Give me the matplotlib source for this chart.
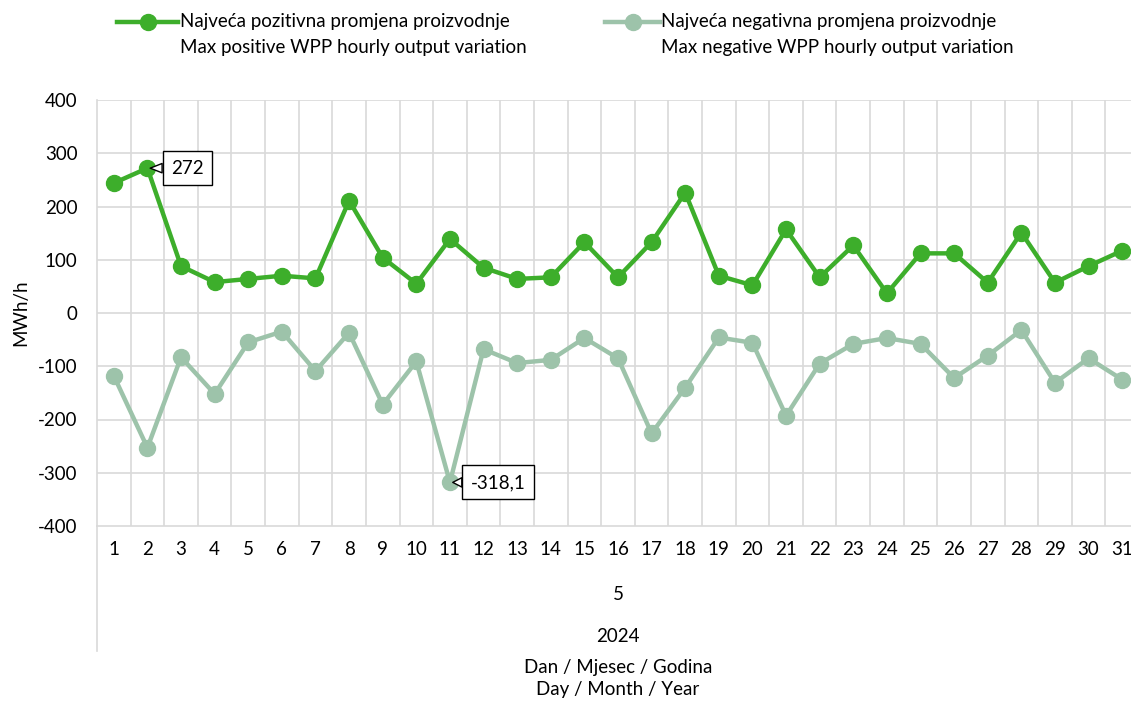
import numpy as np
import matplotlib.pyplot as plt
from matplotlib.lines import Line2D

plt.rcParams['font.family'] = ['Lato', 'DejaVu Sans']
plt.rcParams['axes.unicode_minus'] = False

# podaci (MWh/h) za svibanj 2024
days = list(range(1, 32))
max_pos = [244, 272, 88, 58, 64, 70, 65, 211, 104, 55, 139, 85, 64, 67, 133, 67,
           133, 226, 70, 52, 157, 67, 127, 37, 112, 112, 57, 151, 57, 88, 117]
max_neg = [-118, -253, -83, -152, -55, -35, -109, -37, -172, -91, -318.1, -68, -94,
           -88, -47, -85, -226, -140, -46, -56, -193, -95, -58, -47, -58, -122, -80,
           -32, -131, -85, -125]
month_label = "5"
year_label = "2024"
label_pos = "Najveća pozitivna promjena proizvodnje\nMax positive WPP hourly output variation"
label_neg = "Najveća negativna promjena proizvodnje\nMax negative WPP hourly output variation"

c_pos = '#3DAE2B'
c_neg = '#9DC3AA'
grid_c = '#D9D9D9'
fs = 13.5

W, H = 1131, 701
fig = plt.figure(figsize=(W / 100, H / 100), dpi=100)
# os se proteže malo iza desnog ruba (kao u izvorniku)
x0, x1, y0, y1 = 97, 1139, 100, 526
ax = fig.add_axes([x0 / W, 1 - y1 / H, (x1 - x0) / W, (y1 - y0) / H])

ax.plot(days, max_pos, color=c_pos, lw=3.2, marker='o', ms=11.5, zorder=3)
ax.plot(days, max_neg, color=c_neg, lw=3.2, marker='o', ms=11.5, zorder=3)

ax.set_xlim(0.5, len(days) + 0.5)
ax.set_ylim(-400, 400)
ax.set_yticks(np.arange(-400, 401, 100))
ax.set_xticks(days)
ax.set_xticklabels([str(d) for d in days], fontsize=fs)
ax.tick_params(axis='y', labelsize=fs, length=0, pad=14)
ax.tick_params(axis='x', length=0, pad=11)

# mreža
for v in np.arange(-300, 401, 100):
    ax.axhline(v, color=grid_c, lw=1.2, zorder=1)
for b in np.arange(1.5, len(days) + 0.5, 1):
    ax.axvline(b, color=grid_c, lw=1.2, zorder=1)
for s in ['top', 'right']:
    ax.spines[s].set_visible(False)
ax.spines['left'].set_color(grid_c)
ax.spines['bottom'].set_color(grid_c)
ax.spines['left'].set_linewidth(1.2)
ax.spines['bottom'].set_linewidth(1.2)

ax.set_ylabel('MWh/h', fontsize=fs, labelpad=6)

# oznake kategorija (mjesec, godina)
fig.add_artist(Line2D([x0 / W, x0 / W], [1 - 526 / H, 1 - 651 / H], color=grid_c, lw=1.2))
cx = (x0 + x1) / 2 / W
fig.text(cx, 1 - 595 / H, month_label, ha='center', va='center', fontsize=fs)
fig.text(cx, 1 - 636 / H, year_label, ha='center', va='center', fontsize=fs)
fig.text(cx, 1 - 667 / H, 'Dan / Mjesec / Godina', ha='center', va='center', fontsize=fs)
fig.text(cx, 1 - 690 / H, 'Day / Month / Year', ha='center', va='center', fontsize=fs)

# oznake vrijednosti
i_max = int(np.argmax(max_pos))
i_min = int(np.argmin(max_neg))
box = dict(boxstyle='square,pad=0.45', fc='white', ec='black', lw=1)
arrow = dict(arrowstyle='wedge,tail_width=0.5,shrink_factor=0.5', fc='white',
             ec='black', lw=1, shrinkA=0, shrinkB=2)
ax.annotate(f"{max_pos[i_max]:g}".replace('.', ','), xy=(days[i_max], max_pos[i_max]),
            xytext=(17, 0), textcoords='offset points', fontsize=fs, ha='left',
            va='center', bbox=box, arrowprops=arrow, zorder=5)
ax.annotate(f"{max_neg[i_min]:g}".replace('.', ','), xy=(days[i_min], max_neg[i_min]),
            xytext=(15, 0), textcoords='offset points', fontsize=fs, ha='left',
            va='center', bbox=box, arrowprops=arrow, zorder=5)

# legenda
for (lx0, lx1, tx), col, lab in [((117, 178, 180), c_pos, label_pos),
                                 ((605, 660, 661), c_neg, label_neg)]:
    yy = 1 - 22 / H
    fig.add_artist(Line2D([lx0 / W, lx1 / W], [yy, yy], color=col, lw=3.2))
    fig.add_artist(Line2D([(lx0 + lx1) / 2 / W], [yy], color=col, marker='o', ms=11.5))
    l1, l2 = lab.split('\n')
    fig.text(tx / W, yy, l1, ha='left', va='center', fontsize=fs)
    fig.text(tx / W, 1 - 47 / H, l2, ha='left', va='center', fontsize=fs)

fig.savefig('out.png', dpi=100)
